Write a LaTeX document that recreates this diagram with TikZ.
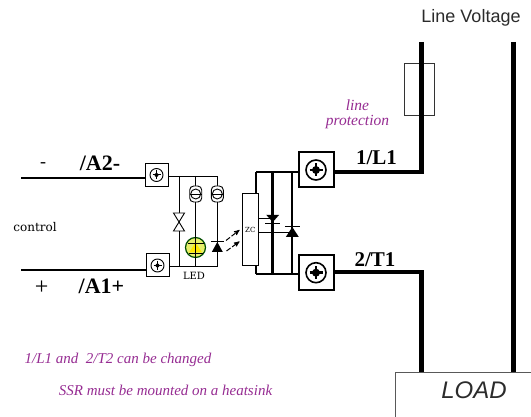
\documentclass[tikz,border=0pt]{standalone}
\usepackage{fontspec}
\setmainfont{Liberation Serif}
\setsansfont{Liberation Sans}
\newfontfamily\slabfont{DejaVu Serif}
\usetikzlibrary{calc}
\usetikzlibrary{arrows}
\definecolor{notecolor}{HTML}{962C92}
\definecolor{voltgray}{HTML}{2B2B2B}
\newcommand{\diodeup}[3]{\fill (#1)++(-#2,#3) -- ++(2*#2,0) -- ++(-#2,-2*#3) -- cycle;
\draw[thin] (#1)++(-#2-1,-#3-.5) -- ++(2*#2+2,0);}
\newcommand{\diodedown}[3]{\fill (#1)++(-#2,-#3) -- ++(2*#2,0) -- ++(-#2,2*#3) -- cycle;
\draw[thin] (#1)++(-#2-1,#3+.7) -- ++(2*#2+2,0);}
\tikzset{
smallterm/.style={draw,line width=1pt,fill=white,minimum width=23pt,minimum height=23pt,inner sep=0pt},
bigterm/.style={draw,line width=2pt,fill=white,minimum width=35pt,minimum height=35pt,inner sep=0pt},
thinwire/.style={line width=.9pt},
wire/.style={line width=2pt},
heavy/.style={line width=3.4pt},
power/.style={line width=5pt},
note/.style={text=notecolor},
pinlabel/.style={font=\bfseries\fontsize{22}{22}\selectfont},
linklabel/.style={font=\bfseries\fontsize{21}{21}\selectfont}
}
\begin{document}
\begin{tikzpicture}[x=1pt,y=-1pt]
\useasboundingbox (0,0) rectangle (531,417);
\coordinate (A2in) at (21,178);
\coordinate (A1in) at (21,270);
\node[smallterm] (A2) at (156.5,175) {};
\node[smallterm] (A1) at (157.5,265.5) {};
\draw[wire] (A2in) -- (A2in-|A2.west);
\draw[wire] (A1in) -- (A1in-|A1.west);
\foreach \t in {A2,A1}{
\draw[line width=.9pt] (\t) circle[radius=6.5pt];
\draw[line width=1pt] (\t)++(-4,0) -- ++(8,0) (\t)++(0,-4.5) -- ++(0,9);
\fill (\t) circle[radius=2pt];
}
\coordinate (TopC) at (179,176);
\coordinate (TopD) at (195.7,176);
\coordinate (TopE) at (217.3,176);
\coordinate (BotC) at (179,266.5);
\coordinate (BotD) at (195.7,266.5);
\coordinate (BotE) at (217.3,266.5);
\draw[thinwire] (A2.east|-TopE) -- (TopE) -- (BotE) -- (A1.east|-BotE);
\draw[thinwire] (TopC) -- (BotC);
\draw[thinwire] (TopD) -- (BotD);
\coordinate (Var) at (179,222);
\draw[thinwire,fill=white] (Var) -- ++(-5.5,-9) -- ++(11,0) -- ++(-11,18) -- ++(11,0) -- cycle;
\foreach \f in {195.7,217.3}{
\draw[thinwire,fill=white,rounded corners=4pt] (\f-6,186) rectangle (\f+6,202);
\draw[thinwire] (\f,194) circle[radius=5pt];
\draw[thinwire] (\f-6,194) -- (\f+6,194);
}
\node[circle,draw=black!70!green,line width=1.2pt,fill=yellow!55!white!90!green,minimum size=20pt,inner sep=0pt] (Led) at (195.5,247.5) {};
\fill[yellow!90!orange] ($(Led)+(-6.5,5)$) -- ++(13,0) -- ++(-6.5,-10) -- cycle;
\draw[thinwire] ($(Led)+(-7,5.5)$) -- ++(14,0);
\draw[thinwire] ($(Led)+(-8,-4.5)$) -- ++(16,0);
\draw[thinwire] (Led.north) -- (Led.south);
\node[font=\slabfont\fontsize{10}{10}\selectfont] (LedText) at (194,276) {LED};
\coordinate (Dl) at (217.3,247);
\diodeup{Dl}{5.5}{5}
\node[draw,line width=.9pt,fill=white,minimum width=16.7pt,minimum height=72.4pt,inner sep=0pt,font=\slabfont\fontsize{7}{7}\selectfont] (ZC) at (250.3,229.5) {ZC};
\draw[line width=1pt,dash pattern=on 5pt off 2pt,-stealth'] (226,240.5) -- ($(ZC.west)+(-2,0.5)$);
\draw[line width=1pt,dash pattern=on 5pt off 2pt,-stealth'] (226.5,251) -- ($(ZC.west)+(-2,12)$);
\node[bigterm] (L1) at (316,170) {};
\node[bigterm] (T1) at (316,272.7) {};
\foreach \t in {L1,T1}{
\draw[line width=1.6pt] (\t) circle[radius=10pt];
\fill (\t) circle[radius=4pt];
\draw[line width=2.4pt] (\t)++(-6.5,0) -- ++(13,0) (\t)++(0,-6.5) -- ++(0,13);
}
\coordinate (Tp) at (256,171.7);
\coordinate (Bp) at (256,274);
\draw[wire] (Tp) -- (L1.west|-Tp);
\draw[wire] (Bp) -- (T1.west|-Bp);
\draw[line width=1.3pt] (Tp) -- (Tp|-ZC.north);
\draw[line width=1.3pt] (Bp) -- (Bp|-ZC.south);
\coordinate (Dp) at (272.7,218.5);
\coordinate (Dq) at (292.3,232);
\draw[line width=2.7pt] (Dp|-Tp) -- (Dp|-Bp);
\draw[line width=2pt] (Dq|-Tp) -- (Dq|-Bp);
\draw[thinwire] (ZC.east|-Dp) -- (Dp);
\draw[thinwire] (ZC.east|-Dq) -- (Dq);
\diodedown{Dp}{6.5}{3.7}
\diodeup{Dq}{6.5}{5}
\coordinate (L1end) at (421.5,172);
\coordinate (T1end) at (421.5,272);
\coordinate (LineTop) at (421.5,42);
\coordinate (NeutTop) at (513.7,42);
\node[draw=black!80,line width=1pt,minimum width=29.7pt,minimum height=51.3pt,inner sep=0pt] (Fuse) at (419.2,89.4) {};
\node[draw=black!65,line width=1pt,anchor=north west,minimum width=140pt,minimum height=50pt,inner sep=0pt] (Load) at (394.5,371.5) {};
\draw[heavy] (L1.east|-L1end) -- (L1end);
\draw[heavy] (T1.east|-T1end) -- (T1end);
\draw[power] (LineTop) -- ++(0,131.7);
\draw[power] (T1end)++(0,-1.7) -- (T1end|-Load.north);
\draw[power] (NeutTop) -- (NeutTop|-Load.north);
\node[pinlabel] (A2text) at (100,163) {/A2-};
\node[pinlabel] (A1text) at (101.5,286.5) {/A1+};
\node[linklabel] (L1text) at (376.5,158) {1/L1};
\node[linklabel] (T1text) at (375,260) {2/T1};
\node[font=\fontsize{18}{18}\selectfont] (Minus) at (43,165) {-};
\node[font=\fontsize{24}{24}\selectfont] (Plus) at (41.7,288) {+};
\node[font=\slabfont\fontsize{12}{12}\selectfont] (Ctrl) at (35,226.7) {control};
\node[note,align=center,font=\itshape\fontsize{15.5}{15}\selectfont] (Prot) at (357.5,114) {line\\protection};
\node[note,font=\itshape\fontsize{15}{15}\selectfont] (Note1) at (118,360) {1/L1 and\ \ 2/T2 can be changed};
\node[note,font=\itshape\fontsize{15}{15}\selectfont] (Note2) at (165.5,390.5) {SSR must be mounted on a heatsink};
\node[text=voltgray,font=\sffamily\fontsize{18}{18}\selectfont] (Volt) at (471,18) {Line Voltage};
\node[text=voltgray,font=\sffamily\itshape\fontsize{24}{24}\selectfont] (LoadText) at (474,390) {LOAD};
\end{tikzpicture}
\end{document}
